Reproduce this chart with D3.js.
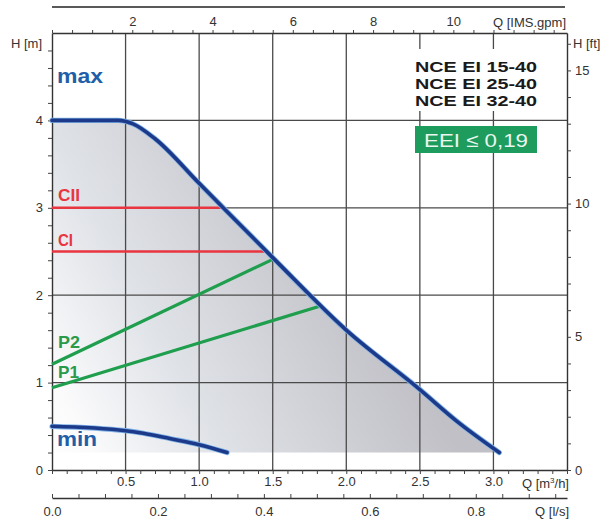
<!DOCTYPE html>
<html><head><meta charset="utf-8">
<script src="https://cdn.jsdelivr.net/npm/d3@7"></script>
<style>body{margin:0;background:#fff}svg{display:block}text{font-family:"Liberation Sans",Arial,sans-serif}</style>
</head><body><svg id="c" width="606" height="522"></svg>
<script>
// ---- data ----
const maxQ = [0.0, 0.45, 0.55, 0.7, 1.0, 1.5, 2.0, 2.5, 2.75, 3.04];
const maxH = [4.0, 4.0, 3.96, 3.79, 3.28, 2.43, 1.6, 0.92, 0.56, 0.2];
const minQ = [0.0, 0.5, 0.62, 0.8, 1.0, 1.19];
const minH = [0.50, 0.45, 0.42, 0.36, 0.29, 0.20];
const shadeFloor = 0.2;
const ciiH = 3.0, ciiQ = 1.17;
const ciH = 2.5, ciQ = 1.47;
const p2Q = [0.0, 1.5], p2H = [1.21, 2.41];
const p1Q = [0.0, 1.83], p1H = [0.94, 1.88];
const m3hLabels = [0.5, 1.0, 1.5, 2.0, 2.5, 3.0];
const lsLabels = [0.0, 0.2, 0.4, 0.6, 0.8];
const gpmLabels = [2, 4, 6, 8, 10];
const mLabels = [0, 1, 2, 3, 4];
const ftLabels = [0, 5, 10, 15];
const models = ["NCE EI 15-40", "NCE EI 25-40", "NCE EI 32-40"];
const eeiText = "EEI \u2264 0,19";

// ---- scales ----
const svg = d3.select("#c");
const L = 52, R = 567, B = 470, T = 33;
const x = d3.scaleLinear().domain([0, 3.5]).range([L, R]);
const y = d3.scaleLinear().domain([0, 5]).range([B, T]);
const gx = d3.scaleLinear().domain([0, 3.5 * 3.6662]).range([L, R]);
const lx = d3.scaleLinear().domain([0, 3.5 / 3.6]).range([L, R]);
const fy = d3.scaleLinear().domain([0, 5 / 0.3048]).range([B, T]);

const range = (a, b, s) => d3.range(0, Math.round((b - a) / s) + 1).map(i => +(a + i * s).toFixed(3));
const line = d3.line().x(d => x(d[0])).y(d => y(d[1])).curve(d3.curveMonotoneX);
const maxPts = maxQ.map((q, i) => [q, maxH[i]]);
const minPts = minQ.map((q, i) => [q, minH[i]]);

// ---- shading ----
const defs = svg.append("defs");
const grad = defs.append("linearGradient").attr("id", "sh").attr("gradientUnits", "userSpaceOnUse")
  .attr("x1", 40).attr("y1", 480).attr("x2", 380).attr("y2", 300);
grad.append("stop").attr("offset", 0).attr("stop-color", "#ffffff");
grad.append("stop").attr("offset", 0.15).attr("stop-color", "#fbfbfc");
grad.append("stop").attr("offset", 0.45).attr("stop-color", "#dfe2e7");
grad.append("stop").attr("offset", 1).attr("stop-color", "#c0c0c6");
svg.append("path")
  .attr("d", line(maxPts) + "L" + x(maxQ[maxQ.length-1]) + "," + y(shadeFloor) + "L" + x(0) + "," + y(shadeFloor) + "Z")
  .attr("fill", "url(#sh)");

// ---- grid ----
const gridC = "#4a4a4a";
svg.append("g").selectAll("line").data(m3hLabels).join("line")
  .attr("x1", d => x(d)).attr("x2", d => x(d)).attr("y1", T).attr("y2", B)
  .attr("stroke", gridC).attr("stroke-width", 1.3);
svg.append("g").selectAll("line").data([1, 2, 3, 4]).join("line")
  .attr("x1", L).attr("x2", R).attr("y1", d => y(d)).attr("y2", d => y(d))
  .attr("stroke", gridC).attr("stroke-width", 1.3);

// ---- axes ----
function style(g) {
  g.select(".domain").attr("stroke", "#333").attr("stroke-width", 1.4);
  g.selectAll(".tick line").attr("stroke", "#444").attr("stroke-width", 1);
  g.selectAll(".tick text").attr("fill", "#333").attr("font-size", 13)
    .style("font-family", '"Liberation Sans",Arial,sans-serif');
}
const fmt1 = d3.format(".1f");
svg.append("g").attr("transform", `translate(0,${B})`)
  .call(d3.axisBottom(x).tickValues(range(0, 3.5, 0.1)).tickSizeInner(4).tickSizeOuter(0)
    .tickFormat(d => m3hLabels.some(v => Math.abs(v - d) < 1e-6) ? fmt1(d) : ""))
  .call(style).call(g => g.selectAll(".tick text").attr("dy", "0.75em").attr("y", 6));
svg.append("g").attr("transform", "translate(0,498)")
  .call(d3.axisBottom(lx).tickValues(range(0, 0.95, 0.05)).tickSizeInner(-4).tickSizeOuter(0).tickPadding(9)
    .tickFormat(d => lsLabels.some(v => Math.abs(v - d) < 1e-6) ? fmt1(d) : ""))
  .call(style);
svg.append("g").attr("transform", `translate(0,${T})`)
  .call(d3.axisTop(gx).tickValues(range(0, 12.5, 0.5)).tickSizeInner(3).tickSizeOuter(0).tickPadding(4)
    .tickFormat(d => gpmLabels.includes(d) ? d : ""))
  .call(style);
svg.append("g").attr("transform", `translate(${L},0)`)
  .call(d3.axisLeft(y).tickValues(range(0, 4.8, 0.2)).tickSizeInner(4).tickSizeOuter(0).tickPadding(5)
    .tickFormat(d => mLabels.includes(d) ? d : ""))
  .call(style);
svg.append("g").attr("transform", `translate(${R},0)`)
  .call(d3.axisRight(fy).tickValues(range(0, 16, 1)).tickSizeInner(4).tickSizeOuter(0).tickPadding(4)
    .tickFormat(d => ftLabels.includes(d) ? d : ""))
  .call(style);
svg.append("line").attr("x1", L).attr("x2", 565).attr("y1", 7).attr("y2", 7).attr("stroke", "#222").attr("stroke-width", 1.6);

const at = (t, xx, yy, anchor) => svg.append("text").attr("x", xx).attr("y", yy).attr("text-anchor", anchor)
  .attr("font-size", 13).attr("fill", "#333").text(t);
at("H [m]", 42, 48, "end");
at("H [ft]", 573, 48, "start");
at("Q [IMS.gpm]", 566, 27, "end");
const qm = svg.append("text").attr("x", 569).attr("y", 488).attr("text-anchor", "end").attr("font-size", 13).attr("fill", "#333");
qm.append("tspan").text("Q [m");
qm.append("tspan").attr("font-size", 8).attr("dy", -5).text("3");
qm.append("tspan").attr("dy", 5).text("/h]");
at("Q [l/s]", 569, 516, "end");

// ---- control lines ----
const red = "#e8353f", green = "#1f9e4e";
svg.append("line").attr("x1", x(0)).attr("x2", x(ciiQ)).attr("y1", y(ciiH)).attr("y2", y(ciiH)).attr("stroke", red).attr("stroke-width", 2.6);
svg.append("line").attr("x1", x(0)).attr("x2", x(ciQ)).attr("y1", y(ciH)).attr("y2", y(ciH)).attr("stroke", red).attr("stroke-width", 2.6);
svg.append("line").attr("x1", x(p2Q[0])).attr("x2", x(p2Q[1])).attr("y1", y(p2H[0])).attr("y2", y(p2H[1])).attr("stroke", green).attr("stroke-width", 3.2);
svg.append("line").attr("x1", x(p1Q[0])).attr("x2", x(p1Q[1])).attr("y1", y(p1H[0])).attr("y2", y(p1H[1])).attr("stroke", green).attr("stroke-width", 3.2);

// ---- pump curves ----
[maxPts, minPts].forEach(p => {
  svg.append("path").attr("d", line(p)).attr("fill", "none").attr("stroke", "#7fb2e6").attr("stroke-width", 5.2).attr("stroke-linecap", "round");
  svg.append("path").attr("d", line(p)).attr("fill", "none").attr("stroke", "#1d3a8a").attr("stroke-width", 3.6).attr("stroke-linecap", "round");
});

// ---- labels ----
const lab = (t, xx, yy, c, s, len) => { const e = svg.append("text").attr("x", xx).attr("y", yy).attr("fill", c)
  .attr("font-size", s).attr("font-weight", "bold").text(t); if (len) e.attr("textLength", len).attr("lengthAdjust", "spacingAndGlyphs"); return e; };
lab("max", 57, 83, "#1f5ea8", 21, 46);
lab("min", 57, 446, "#1f5ea8", 21, 40);
lab("CII", 58, 201, red, 17, 22);
lab("CI", 58, 246, red, 17, 15);
lab("P2", 58, 348, "#2a9a48", 17, 22);
lab("P1", 58, 378, "#2a9a48", 17, 21);

svg.append("rect").attr("x", 412).attr("y", 49).attr("width", 130).attr("height", 62).attr("fill", "#fff");
models.forEach((m, i) => svg.append("text").attr("x", 415).attr("y", 72 + i * 17).attr("font-size", 15.5)
  .attr("font-weight", "bold").attr("fill", "#1a1a1a").attr("textLength", 122).attr("lengthAdjust", "spacingAndGlyphs").text(m));
svg.append("rect").attr("x", 415).attr("y", 126).attr("width", 122).attr("height", 27).attr("fill", "#1d9c5e");
svg.append("text").attr("x", 476).attr("y", 147).attr("text-anchor", "middle").attr("font-size", 19).attr("fill", "#eaf6ee")
  .attr("textLength", 104).attr("lengthAdjust", "spacingAndGlyphs").text(eeiText);
</script></body></html>
